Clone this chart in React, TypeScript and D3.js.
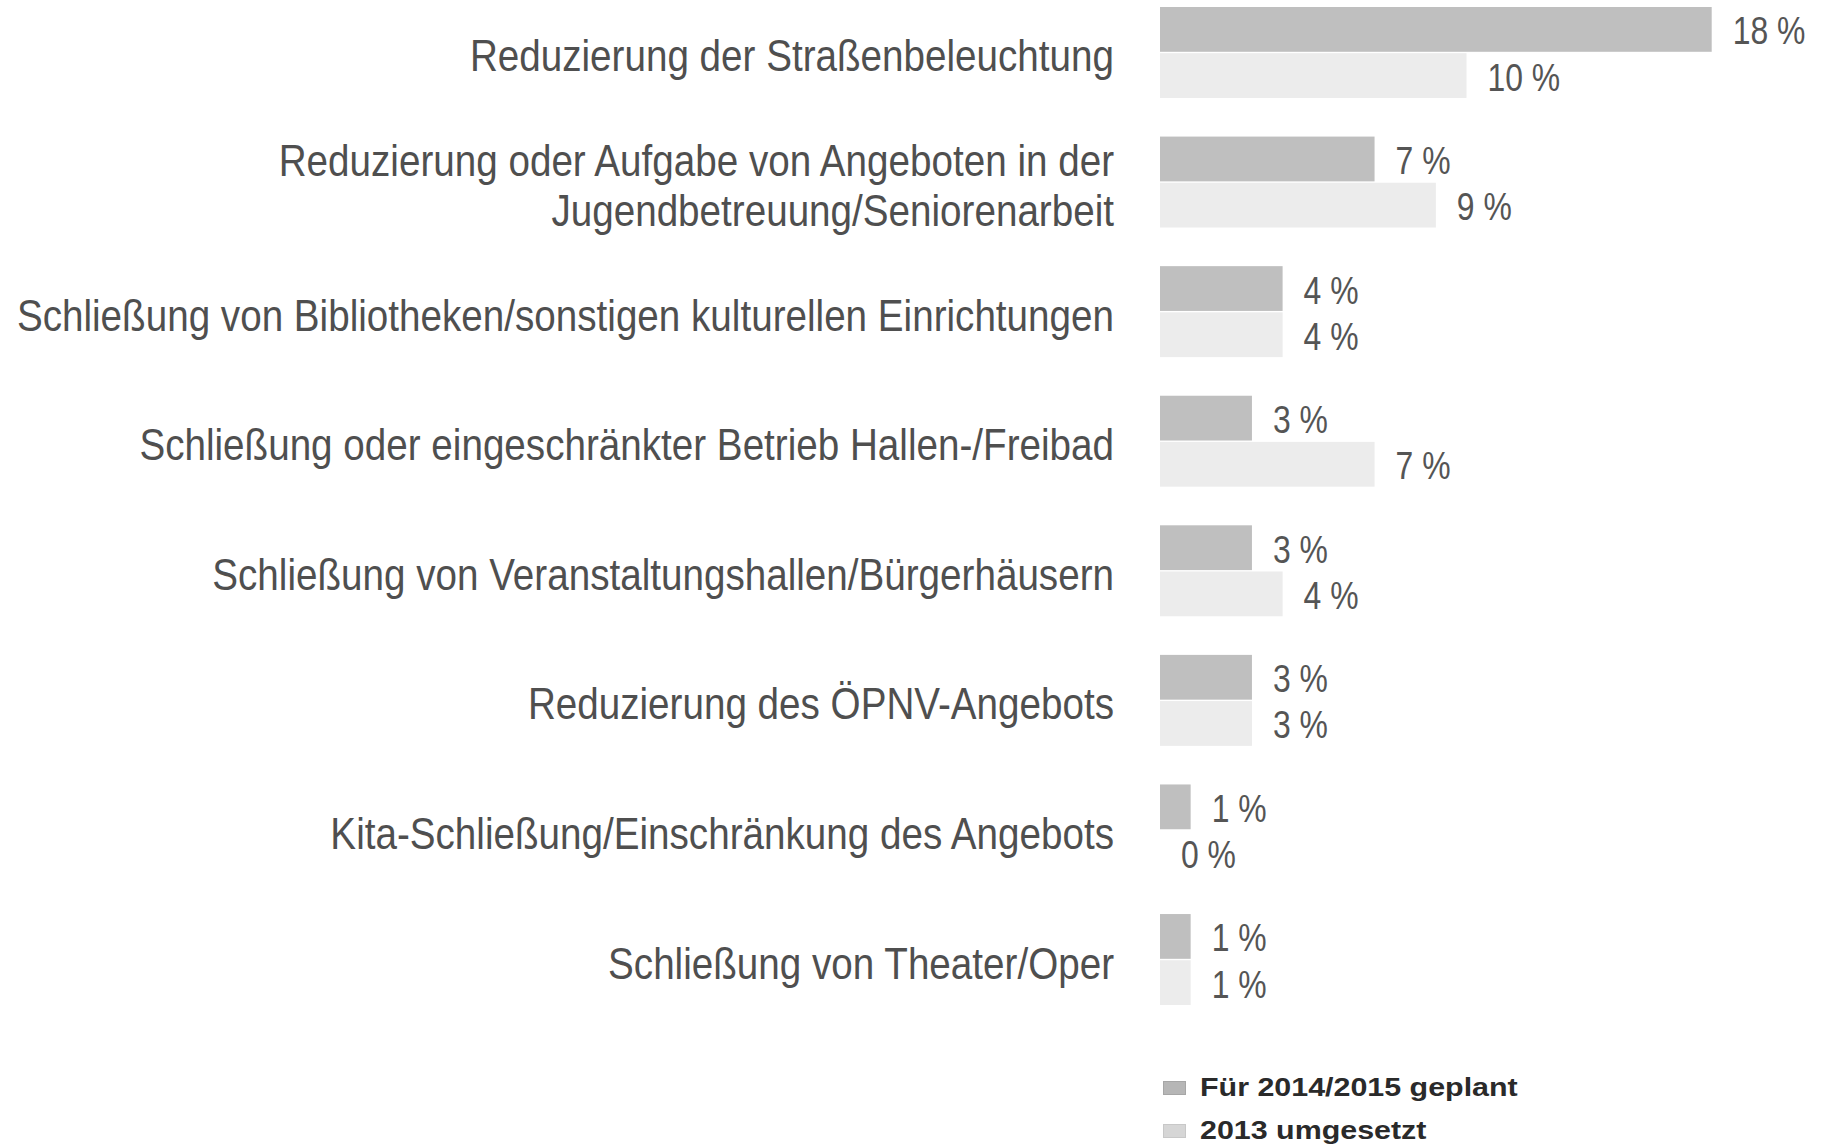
import React from "react";
import * as d3 from "d3";

const categories: string[][] = [
  ["Reduzierung der Straßenbeleuchtung"],
  ["Reduzierung oder Aufgabe von Angeboten in der", "Jugendbetreuung/Seniorenarbeit"],
  ["Schließung von Bibliotheken/sonstigen kulturellen Einrichtungen"],
  ["Schließung oder eingeschränkter Betrieb Hallen-/Freibad"],
  ["Schließung von Veranstaltungshallen/Bürgerhäusern"],
  ["Reduzierung des ÖPNV-Angebots"],
  ["Kita-Schließung/Einschränkung des Angebots"],
  ["Schließung von Theater/Oper"],
];

const seriesNames = ["Für 2014/2015 geplant", "2013 umgesetzt"];
const planned = [18, 7, 4, 3, 3, 3, 1, 1];
const implemented = [10, 9, 4, 7, 4, 3, 0, 1];
const seriesValues = [planned, implemented];
const barColors = ["#bfbfbf", "#ececec"];
const legendColors = ["#b6b6b6", "#d6d6d6"];
const legendStroke = ["#a6a6a6", "#c8c8c8"];

const W = 1834;
const H = 1145;

export default function App() {
  const keys = categories.map((c) => c.join(" "));
  const x = d3.scaleLinear().domain([0, 18]).range([1160, 1711.7]);
  const y = d3
    .scaleBand<string>()
    .domain(keys)
    .range([7, 1005])
    .paddingInner(0.298)
    .paddingOuter(0);
  const ySub = d3
    .scaleBand<number>()
    .domain([0, 1])
    .range([0, y.bandwidth()])
    .paddingInner(0.03);

  const font = "'Liberation Sans', Arial, sans-serif";
  const catSX = 0.878;
  const valSX = 0.84;

  return (
    <svg
      width={W}
      height={H}
      style={{ position: "absolute", left: 0, top: 0, background: "#fff" }}
      fontFamily={font}
    >
      {categories.map((lines, i) => {
        const key = keys[i];
        const y0 = y(key)!;
        const cy = y0 + y.bandwidth() / 2;
        const lh = 50;
        const startBase = cy + 19 - ((lines.length - 1) * lh) / 2;
        return (
          <g key={key}>
            {lines.map((ln, j) => (
              <text
                key={j}
                textAnchor="end"
                fontSize={44}
                fill="#4f4f4f"
                transform={`translate(1114, ${startBase + j * lh}) scale(${catSX}, 1)`}
              >
                {ln}
              </text>
            ))}
            {seriesValues.map((vals, s) => {
              const by = y0 + ySub(s)!;
              const bh = ySub.bandwidth();
              const v = vals[i];
              return (
                <g key={s}>
                  {v > 0 && (
                    <rect
                      x={x(0)}
                      y={by}
                      width={x(v) - x(0)}
                      height={bh}
                      fill={barColors[s]}
                    />
                  )}
                  <text
                    transform={`translate(${x(v) + 21}, ${by + bh / 2 + 15}) scale(${valSX}, 1)`}
                    fontSize={38}
                    fill="#555"
                  >
                    {v + " %"}
                  </text>
                </g>
              );
            })}
          </g>
        );
      })}
      {seriesNames.map((name, s) => {
        const ly = 1081 + s * 43;
        return (
          <g key={name}>
            <rect
              x={1163.5}
              y={ly + 0.5}
              width={22}
              height={13}
              fill={legendColors[s]}
              stroke={legendStroke[s]}
            />
            <text
              transform={`translate(1200, ${ly + 15}) scale(1.17, 1)`}
              fontSize={26}
              fontWeight="bold"
              fill="#2a2a2a"
            >
              {name}
            </text>
          </g>
        );
      })}
    </svg>
  );
}
